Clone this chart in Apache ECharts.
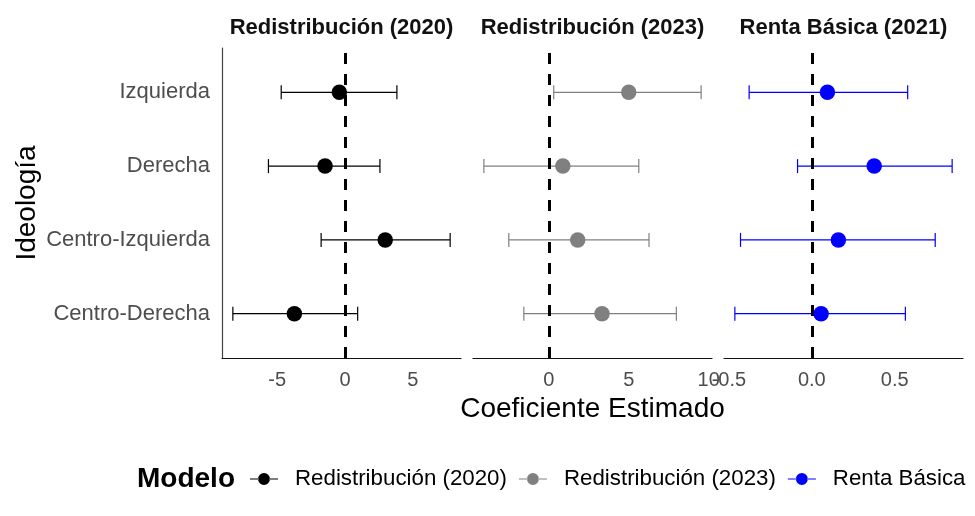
<!DOCTYPE html>
<html>
<head>
<meta charset="utf-8">
<script src="https://cdn.jsdelivr.net/npm/echarts@6/dist/echarts.min.js"></script>
<style>html,body{margin:0;padding:0;background:#fff;}#c{width:975px;height:516px;}</style>
</head>
<body>
<div id="c"></div>
<script>
// ---- data ----
const categories = ['Izquierda', 'Derecha', 'Centro-Izquierda', 'Centro-Derecha']; // top to bottom
const panelTitles = ['Redistribución (2020)', 'Redistribución (2023)', 'Renta Básica (2021)'];
const legendNames = ['Redistribución (2020)', 'Redistribución (2023)', 'Renta Básica'];
const colors = ['#000000', '#808080', '#0000FF'];

const est2020 = [-0.42, -1.47, 2.96, -3.73];
const lo2020  = [-4.70, -5.64, -1.76, -8.26];
const hi2020  = [3.82, 2.57, 7.74, 0.93];

const est2023 = [5.00, 0.88, 1.81, 3.33];
const lo2023  = [0.31, -4.06, -2.50, -1.56];
const hi2023  = [9.53, 5.63, 6.27, 7.98];

const estRB = [0.094, 0.376, 0.160, 0.056];
const loRB  = [-0.378, -0.086, -0.430, -0.464];
const hiRB  = [0.578, 0.846, 0.744, 0.564];

const ticks2020 = [-5, 0, 5];
const ticks2023 = [0, 5, 10];
const ticksRB = [-0.5, 0, 0.5];

const xTitle = 'Coeficiente Estimado';
const yTitle = 'Ideología';
const legendTitle = 'Modelo';

// ---- build ----
const panels = [
  {est: est2020, lo: lo2020, hi: hi2020, ticks: ticks2020, fmt: v => String(v)},
  {est: est2023, lo: lo2023, hi: hi2023, ticks: ticks2023, fmt: v => String(v)},
  {est: estRB, lo: loRB, hi: hiRB, ticks: ticksRB, fmt: v => v.toFixed(1)}
];
const FONT = 'Liberation Sans, Arial, sans-serif';
const n = categories.length;
const yOf = i => n - i;

const gridLefts = [222, 473, 724];
const gridW = 239;
const grids = gridLefts.map(l => ({left: l, top: 48, width: gridW, height: 310}));

const xAxes = panels.map((p, k) => {
  const mn = Math.min(...p.lo), mx = Math.max(...p.hi);
  const pad = (mx - mn) * 0.05;
  return {
    type: 'value', gridIndex: k, min: mn - pad, max: mx + pad,
    splitLine: {show: false},
    axisTick: {show: false},
    axisLine: {show: true, onZero: false, lineStyle: {color: '#111', width: 1.2}},
    axisLabel: {customValues: p.ticks, formatter: v => p.fmt(v), color: '#4D4D4D', fontSize: 20, fontFamily: FONT, margin: 12}
  };
});
const yAxes = panels.map((p, k) => ({
  type: 'value', gridIndex: k, min: 0.4, max: n + 0.6,
  splitLine: {show: false},
  axisTick: {show: false},
  axisLine: {show: k === 0, onZero: false, lineStyle: {color: '#444', width: 1.2}},
  axisLabel: k === 0 ? {customValues: categories.map((c, i) => yOf(i)), formatter: v => categories[n - Math.round(v)], color: '#4D4D4D', fontSize: 22, fontFamily: FONT, margin: 12} : {show: false}
}));

const series = [];
panels.forEach((p, k) => {
  const col = colors[k];
  series.push({
    type: 'scatter', name: legendNames[k], xAxisIndex: k, yAxisIndex: k,
    data: p.est.map((e, i) => [e, yOf(i)]),
    symbol: 'circle', symbolSize: 15.5, z: 4,
    itemStyle: {color: col, opacity: 1}
  });
  series.push({
    type: 'custom', name: legendNames[k], xAxisIndex: k, yAxisIndex: k,
    data: p.lo.map((l, i) => [l, p.hi[i], yOf(i)]),
    encode: {x: [0, 1], y: 2},
    itemStyle: {color: col},
    z: 2,
    renderItem: (params, api) => {
      const y = api.value(2);
      const a = api.coord([api.value(0), y]);
      const b = api.coord([api.value(1), y]);
      const h = 7;
      const st = {stroke: col, lineWidth: 1.2};
      return {type: 'group', children: [
        {type: 'line', shape: {x1: a[0], y1: a[1], x2: b[0], y2: b[1]}, style: st},
        {type: 'line', shape: {x1: a[0], y1: a[1] - h, x2: a[0], y2: a[1] + h}, style: st},
        {type: 'line', shape: {x1: b[0], y1: b[1] - h, x2: b[0], y2: b[1] + h}, style: st}
      ]};
    },
    markLine: {
      silent: true, symbol: 'none', z: 3,
      label: {show: false},
      lineStyle: {color: '#000', width: 3, type: [11, 10]},
      data: [{xAxis: 0}]
    }
  });
});

const graphics = [];
panelTitles.forEach((t, k) => {
  graphics.push({type: 'text', x: gridLefts[k] + gridW / 2, y: 28,
    style: {text: t, font: 'bold 22px ' + FONT, fill: '#111', textAlign: 'center', textVerticalAlign: 'middle'}});
});
graphics.push({type: 'text', x: (gridLefts[0] + gridLefts[2] + gridW) / 2, y: 409,
  style: {text: xTitle, font: '28px ' + FONT, fill: '#000', textAlign: 'center', textVerticalAlign: 'middle'}});
graphics.push({type: 'text', x: 27, y: 203, rotation: Math.PI / 2,
  style: {text: yTitle, font: '28px ' + FONT, fill: '#000', textAlign: 'center', textVerticalAlign: 'middle'}});
graphics.push({type: 'text', x: 137, y: 479,
  style: {text: legendTitle, font: 'bold 28px ' + FONT, fill: '#000', textAlign: 'left', textVerticalAlign: 'middle'}});

const chart = echarts.init(document.getElementById('c'), null, {renderer: 'canvas'});
chart.setOption({
  animation: false,
  backgroundColor: '#fff',
  grid: grids,
  xAxis: xAxes,
  yAxis: yAxes,
  legend: {
    left: 250, top: 468, padding: 0, itemWidth: 28, itemHeight: 12, itemGap: 12,
    icon: 'path://M0,5.4h8.5v1.2h-8.5z M19.5,5.4h8.5v1.2h-8.5z M8,6a6,6 0 1,0 12,0a6,6 0 1,0 -12,0z',
    textStyle: {fontSize: 22.3, color: '#000', fontFamily: FONT, padding: [0, 0, 0, 12]},
    data: legendNames.map((nm, k) => ({name: nm, itemStyle: {color: colors[k]}}))
  },
  graphic: graphics,
  series: series
});
</script>
</body>
</html>
